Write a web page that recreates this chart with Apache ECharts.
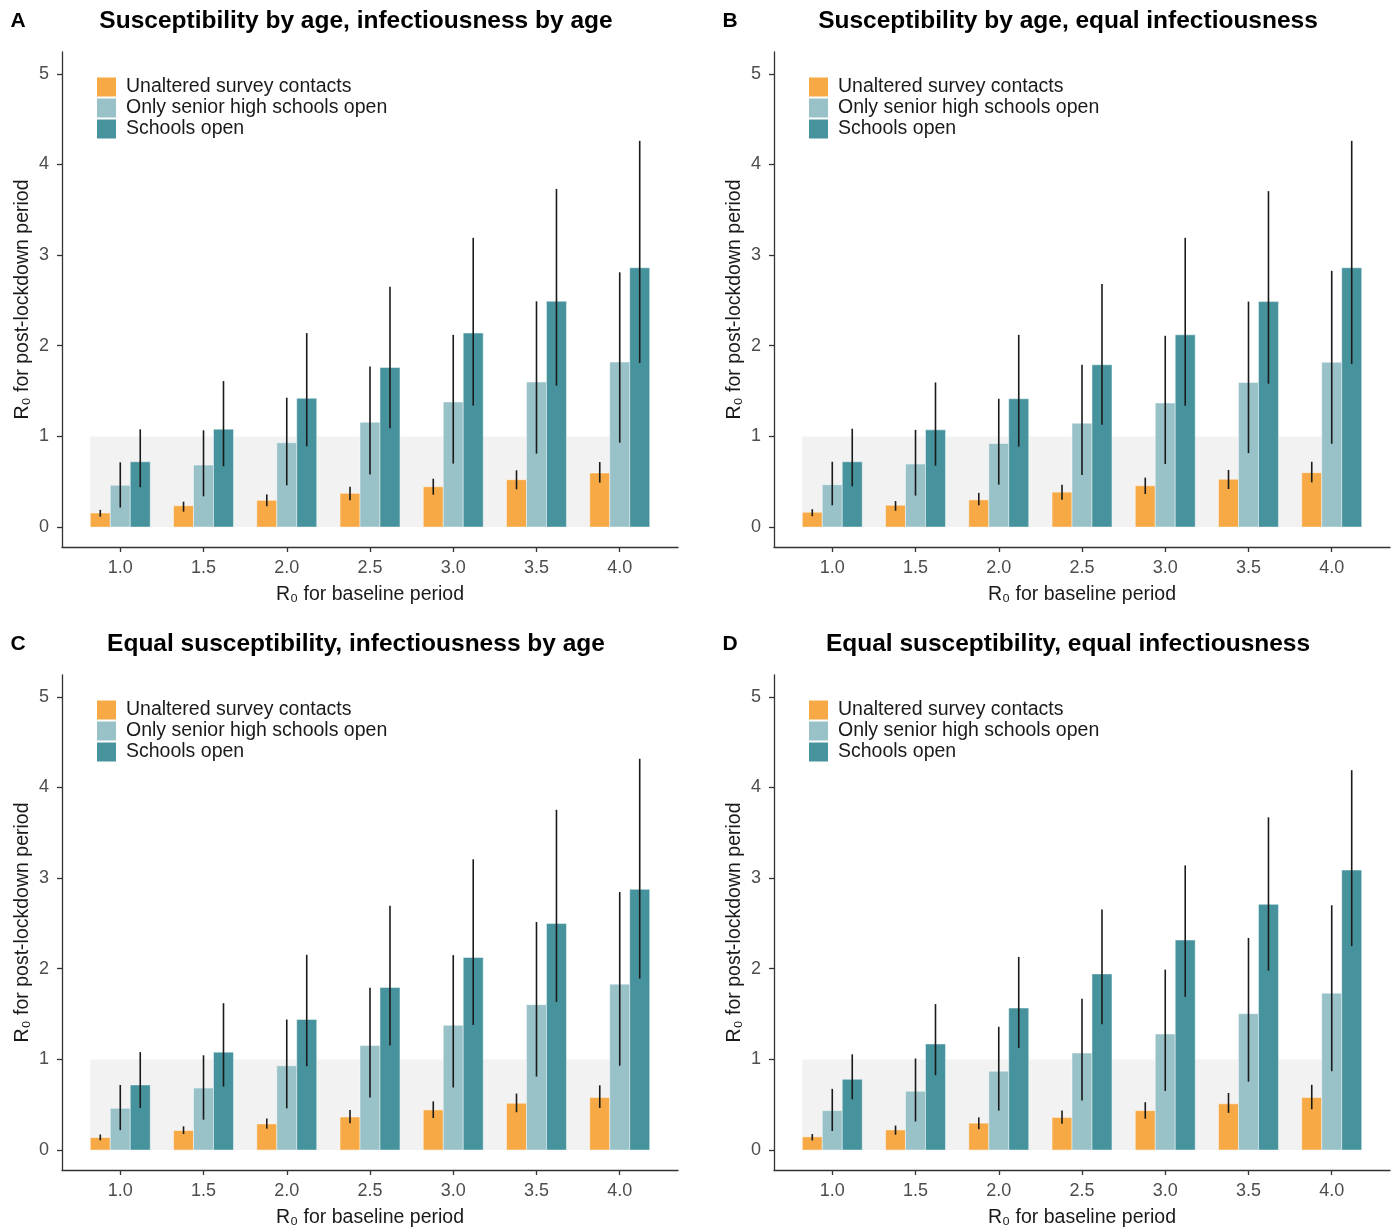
<!DOCTYPE html>
<html>
<head>
<meta charset="utf-8">
<script src="https://cdn.jsdelivr.net/npm/echarts@6/dist/echarts.min.js"></script>
<style>
html,body{margin:0;padding:0;background:#fff;}
#chart{width:1398px;height:1229px;}
</style>
</head>
<body>
<div id="chart"></div>
<script>
// ---------- data ----------
const baselineR0 = [1.0, 1.5, 2.0, 2.5, 3.0, 3.5, 4.0];
const xTickLabels = ['1.0', '1.5', '2.0', '2.5', '3.0', '3.5', '4.0'];
const yTickValues = [0, 1, 2, 3, 4, 5];
const seriesNames = ['Unaltered survey contacts', 'Only senior high schools open', 'Schools open'];
const panelLetters = ['A', 'B', 'C', 'D'];
const panelTitles = [
  'Susceptibility by age, infectiousness by age',
  'Susceptibility by age, equal infectiousness',
  'Equal susceptibility, infectiousness by age',
  'Equal susceptibility, equal infectiousness'
];
const refBandX = [0.82, 4.18];
const refBandY = [0, 1];

// Panel A
const A_unaltered    = [0.155, 0.235, 0.295, 0.372, 0.445, 0.522, 0.596];
const A_unaltered_lo = [0.115, 0.17, 0.23, 0.295, 0.357, 0.416, 0.49];
const A_unaltered_hi = [0.19, 0.28, 0.36, 0.445, 0.533, 0.626, 0.717];
const A_senior       = [0.46, 0.684, 0.93, 1.155, 1.38, 1.60, 1.82];
const A_senior_lo    = [0.215, 0.339, 0.46, 0.58, 0.70, 0.81, 0.93];
const A_senior_hi    = [0.714, 1.067, 1.427, 1.77, 2.12, 2.49, 2.81];
const A_schools      = [0.72, 1.08, 1.42, 1.76, 2.14, 2.49, 2.86];
const A_schools_lo   = [0.44, 0.67, 0.89, 1.09, 1.34, 1.56, 1.81];
const A_schools_hi   = [1.078, 1.61, 2.14, 2.65, 3.19, 3.73, 4.26];

// Panel B
const B_unaltered    = [0.163, 0.24, 0.30, 0.385, 0.455, 0.527, 0.60];
const B_unaltered_lo = [0.12, 0.18, 0.24, 0.30, 0.364, 0.42, 0.493];
const B_unaltered_hi = [0.197, 0.287, 0.377, 0.467, 0.545, 0.63, 0.72];
const B_senior       = [0.467, 0.695, 0.922, 1.145, 1.368, 1.595, 1.818];
const B_senior_lo    = [0.24, 0.347, 0.467, 0.575, 0.695, 0.815, 0.918];
const B_senior_hi    = [0.72, 1.072, 1.415, 1.79, 2.11, 2.487, 2.826];
const B_schools      = [0.72, 1.072, 1.415, 1.79, 2.12, 2.487, 2.86];
const B_schools_lo   = [0.45, 0.677, 0.888, 1.128, 1.338, 1.582, 1.80];
const B_schools_hi   = [1.085, 1.595, 2.12, 2.68, 3.19, 3.705, 4.26];

// Panel C
const C_unaltered    = [0.138, 0.215, 0.288, 0.365, 0.443, 0.516, 0.58];
const C_unaltered_lo = [0.107, 0.176, 0.236, 0.297, 0.353, 0.417, 0.464];
const C_unaltered_hi = [0.172, 0.262, 0.348, 0.443, 0.537, 0.623, 0.714];
const C_senior       = [0.46, 0.684, 0.929, 1.152, 1.376, 1.604, 1.83];
const C_senior_lo    = [0.22, 0.335, 0.46, 0.58, 0.69, 0.81, 0.93];
const C_senior_hi    = [0.718, 1.045, 1.44, 1.79, 2.15, 2.515, 2.846];
const C_schools      = [0.718, 1.08, 1.44, 1.793, 2.124, 2.498, 2.876];
const C_schools_lo   = [0.464, 0.70, 0.925, 1.152, 1.38, 1.634, 1.892];
const C_schools_hi   = [1.08, 1.62, 2.154, 2.696, 3.207, 3.753, 4.316];

// Panel D
const D_unaltered    = [0.146, 0.222, 0.297, 0.36, 0.435, 0.51, 0.58];
const D_unaltered_lo = [0.106, 0.169, 0.23, 0.29, 0.346, 0.41, 0.45];
const D_unaltered_hi = [0.177, 0.27, 0.36, 0.435, 0.528, 0.63, 0.72];
const D_senior       = [0.435, 0.648, 0.87, 1.07, 1.28, 1.504, 1.73];
const D_senior_lo    = [0.21, 0.315, 0.435, 0.546, 0.652, 0.754, 0.87];
const D_senior_hi    = [0.675, 1.01, 1.36, 1.67, 1.99, 2.34, 2.70];
const D_schools      = [0.78, 1.17, 1.566, 1.943, 2.316, 2.71, 3.088];
const D_schools_lo   = [0.56, 0.825, 1.127, 1.389, 1.69, 1.98, 2.25];
const D_schools_hi   = [1.056, 1.61, 2.13, 2.653, 3.14, 3.67, 4.19];

const panels = [
  [[A_unaltered, A_unaltered_lo, A_unaltered_hi], [A_senior, A_senior_lo, A_senior_hi], [A_schools, A_schools_lo, A_schools_hi]],
  [[B_unaltered, B_unaltered_lo, B_unaltered_hi], [B_senior, B_senior_lo, B_senior_hi], [B_schools, B_schools_lo, B_schools_hi]],
  [[C_unaltered, C_unaltered_lo, C_unaltered_hi], [C_senior, C_senior_lo, C_senior_hi], [C_schools, C_schools_lo, C_schools_hi]],
  [[D_unaltered, D_unaltered_lo, D_unaltered_hi], [D_senior, D_senior_lo, D_senior_hi], [D_schools, D_schools_lo, D_schools_hi]]
];

// ---------- styling / layout ----------
const colors = ['#F6A945', '#98C2C8', '#46939D'];
const FONT = '"Liberation Sans", Arial, sans-serif';
const barW = 0.12;
const offsets = [-0.12, 0, 0.12];
const gridPos = [
  {left: 62, top: 52},
  {left: 774, top: 52},
  {left: 62, top: 675},
  {left: 774, top: 675}
];
const GW = 616, GH = 495;
const titleCenters = [356, 1068, 356, 1068];
const titleY = [21, 21, 644, 644];
const letterX = [18, 730, 18, 730];

const grids = [], xAxes = [], yAxes = [], series = [], legends = [], graphics = [];

gridPos.forEach((g, p) => {
  grids.push({left: g.left, top: g.top, width: GW, height: GH, containLabel: false});
  xAxes.push({
    type: 'value', gridIndex: p, min: 0.65, max: 4.35,
    name: 'R\u2080 for baseline period', nameLocation: 'middle', nameGap: 38,
    nameTextStyle: {fontFamily: FONT, fontSize: 19.5, color: '#1a1a1a'},
    axisLine: {show: true, onZero: false, lineStyle: {color: '#333', width: 1.3}},
    axisTick: {show: true, length: 5, lineStyle: {color: '#333', width: 1.3}, customValues: baselineR0},
    axisLabel: {fontFamily: FONT, fontSize: 18, color: '#4D4D4D', margin: 12,
      customValues: baselineR0,
      formatter: v => { const i = baselineR0.indexOf(v); return i >= 0 ? xTickLabels[i] : v.toFixed(1); }},
    splitLine: {show: false}
  });
  yAxes.push({
    type: 'value', gridIndex: p, min: -0.22, max: 5.24,
    name: 'R\u2080 for post-lockdown period', nameLocation: 'middle', nameGap: 29, nameRotate: 90,
    nameTextStyle: {fontFamily: FONT, fontSize: 19.5, color: '#1a1a1a'},
    axisLine: {show: true, onZero: false, lineStyle: {color: '#333', width: 1.3}},
    axisTick: {show: true, length: 5, lineStyle: {color: '#333', width: 1.3}, customValues: yTickValues},
    axisLabel: {fontFamily: FONT, fontSize: 18, color: '#4D4D4D', margin: 13, customValues: yTickValues},
    splitLine: {show: false}
  });
  // reference band
  series.push({
    type: 'custom', name: 'band', xAxisIndex: p, yAxisIndex: p, silent: true, z: 1,
    data: [[refBandX[0], refBandX[1], refBandY[0], refBandY[1]]],
    renderItem: (params, api) => {
      const p1 = api.coord([api.value(0), api.value(3)]);
      const p2 = api.coord([api.value(1), api.value(2)]);
      return {type: 'rect', shape: {x: p1[0], y: p1[1], width: p2[0] - p1[0], height: p2[1] - p1[1]},
        style: {fill: '#F2F2F2'}};
    }
  });
  panels[p].forEach((s, k) => {
    const data = baselineR0.map((x, i) => [x, s[0][i], s[1][i], s[2][i]]);
    series.push({
      type: 'custom', name: seriesNames[k], xAxisIndex: p, yAxisIndex: p, z: 2 + k,
      itemStyle: {color: colors[k]},
      data: data,
      renderItem: (params, api) => {
        const x = api.value(0) + offsets[k];
        const tl = api.coord([x - barW / 2, api.value(1)]);
        const br = api.coord([x + barW / 2, 0]);
        const lo = api.coord([x, api.value(2)]);
        const hi = api.coord([x, api.value(3)]);
        return {type: 'group', children: [
          {type: 'rect', shape: {x: tl[0], y: tl[1], width: br[0] - tl[0], height: br[1] - tl[1]},
            style: {fill: colors[k], stroke: 'rgba(255,255,255,0.45)', lineWidth: 1}},
          {type: 'line', shape: {x1: lo[0], y1: lo[1], x2: hi[0], y2: hi[1]},
            style: {stroke: '#1a1a1a', lineWidth: 1.6}}
        ]};
      }
    });
  });
  legends.push({
    orient: 'vertical', left: g.left + 35, top: g.top + 25,
    itemWidth: 19, itemHeight: 19, itemGap: 1, padding: 0,
    icon: 'rect', selectedMode: false,
    data: seriesNames.map((n, k) => ({name: n, itemStyle: {color: colors[k]}})),
    textStyle: {fontFamily: FONT, fontSize: 19.5, color: '#1a1a1a', lineHeight: 19, padding: [0, 0, 0, 5]}
  });
  graphics.push({type: 'text', z: 10,
    style: {text: panelTitles[p], font: 'bold 24.5px ' + FONT, fill: '#000', align: 'center', verticalAlign: 'middle'},
    x: titleCenters[p], y: titleY[p]});
  graphics.push({type: 'text', z: 10,
    style: {text: panelLetters[p], font: 'bold 21px ' + FONT, fill: '#000', align: 'center', verticalAlign: 'middle'},
    x: letterX[p], y: titleY[p]});
});

const chart = echarts.init(document.getElementById('chart'), null, {renderer: 'canvas'});
chart.setOption({
  backgroundColor: '#fff',
  animation: false,
  grid: grids, xAxis: xAxes, yAxis: yAxes,
  legend: legends,
  series: series,
  graphic: graphics
});
</script>
</body>
</html>
